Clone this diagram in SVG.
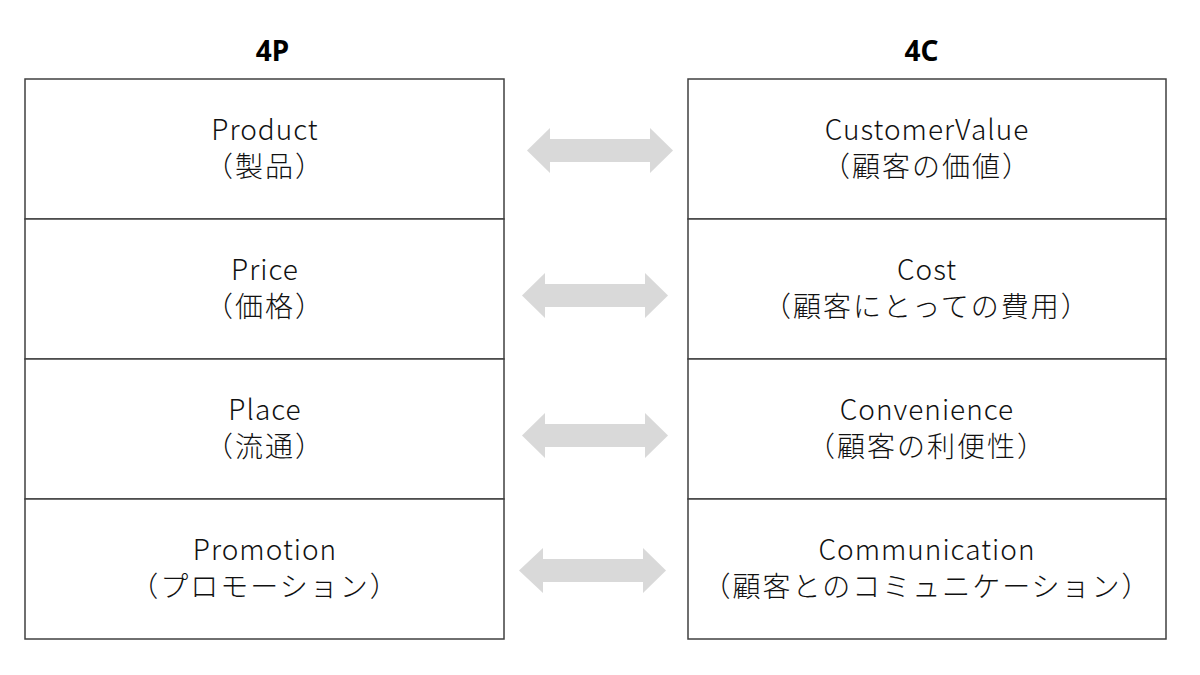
<svg xmlns="http://www.w3.org/2000/svg" width="1200" height="675" viewBox="0 0 1200 675">
<style>
.box{fill:#fff;stroke:#404040;stroke-width:1.5}
.t{font-family:"Noto Sans CJK JP","Noto Sans",sans-serif;font-size:28px;font-weight:300;fill:#111;text-anchor:middle;letter-spacing:1px}
.j{letter-spacing:2px}
.h{font-family:"Noto Sans","Noto Sans CJK JP",sans-serif;font-size:28px;font-weight:700;fill:#000;text-anchor:middle}
.arr{fill:#d9d9d9}
</style>
<rect width="1200" height="675" fill="#fff"/>
<text class="h" x="272.5" y="61">4P</text>
<text class="h" x="921.5" y="61">4C</text>
<g id="p1"><rect class="box" x="25" y="79" width="479" height="140"/><text class="t" x="265" y="140">Product</text><text class="t j" x="265" y="177">（製品）</text></g>
<g id="p2"><rect class="box" x="25" y="219" width="479" height="140"/><text class="t" x="265" y="280">Price</text><text class="t j" x="265" y="317">（価格）</text></g>
<g id="p3"><rect class="box" x="25" y="359" width="479" height="140"/><text class="t" x="265" y="420">Place</text><text class="t j" x="265" y="457">（流通）</text></g>
<g id="p4"><rect class="box" x="25" y="499" width="479" height="140"/><text class="t" x="265" y="560">Promotion</text><text class="t j" x="265" y="597">（プロモーション）</text></g>
<g id="c1"><rect class="box" x="688" y="79" width="478" height="140"/><text class="t" x="927" y="140">CustomerValue</text><text class="t j" x="927" y="177">（顧客の価値）</text></g>
<g id="c2"><rect class="box" x="688" y="219" width="478" height="140"/><text class="t" x="927" y="280">Cost</text><text class="t j" x="927" y="317">（顧客にとっての費用）</text></g>
<g id="c3"><rect class="box" x="688" y="359" width="478" height="140"/><text class="t" x="927" y="420">Convenience</text><text class="t j" x="927" y="457">（顧客の利便性）</text></g>
<g id="c4"><rect class="box" x="688" y="499" width="478" height="140"/><text class="t" x="927" y="560">Communication</text><text class="t j" x="927" y="597">（顧客とのコミュニケーション）</text></g>
<g id="connectors">
<polygon class="arr" points="527,150.5 550,128 550,139 650,139 650,128 673,150.5 650,173 650,162 550,162 550,173"/>
<polygon class="arr" points="522,295.5 545,273 545,284 645,284 645,273 668,295.5 645,318 645,307 545,307 545,318"/>
<polygon class="arr" points="522,435.5 545,413 545,424 645,424 645,413 668,435.5 645,458 645,447 545,447 545,458"/>
<polygon class="arr" points="519,570.5 543,548 543,559 643,559 643,548 666,570.5 643,593 643,582 543,582 543,593"/>
</g>
</svg>
